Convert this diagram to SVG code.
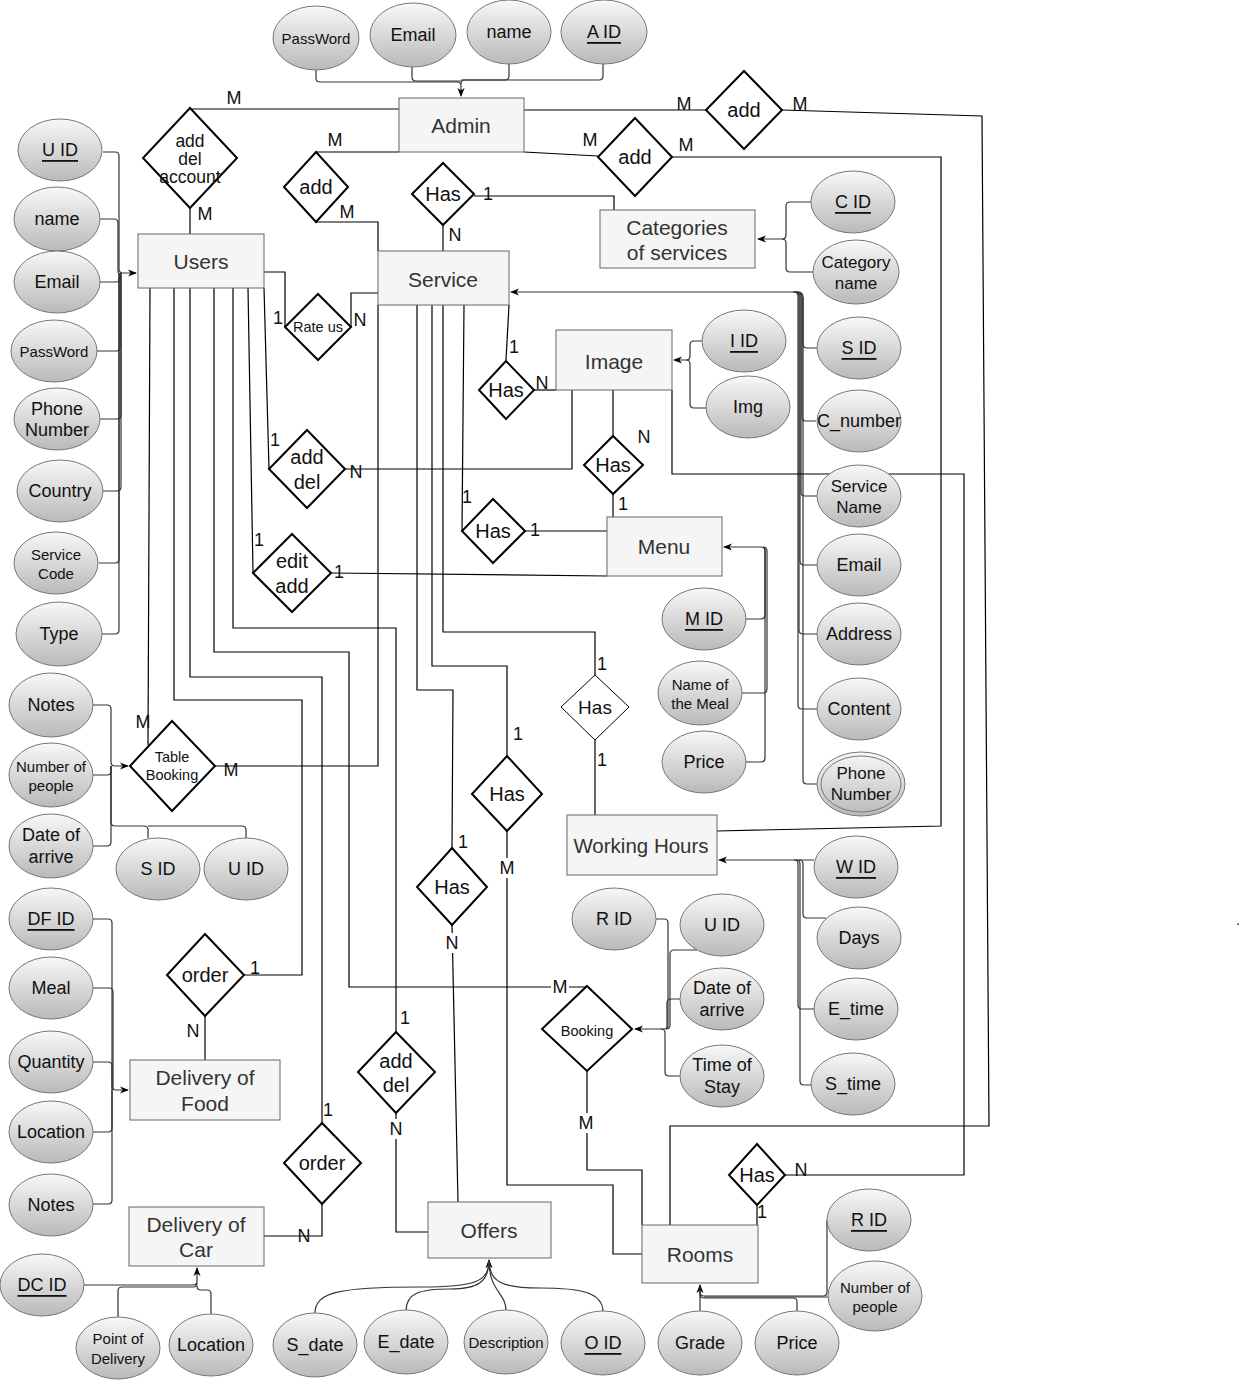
<svg xmlns="http://www.w3.org/2000/svg" width="1242" height="1381" viewBox="0 0 1242 1381">
<style>
.ent{fill:#f5f5f5;stroke:#666;stroke-width:1}
.et{font-family:"Liberation Sans",Arial,sans-serif;font-size:21px;fill:#333;text-anchor:middle;dominant-baseline:central}
.attr{fill:url(#g);stroke:#777;stroke-width:1}
.at{font-family:"Liberation Sans",Arial,sans-serif;font-size:18px;fill:#111;text-anchor:middle;dominant-baseline:central}
.sm{font-size:15px}
.u{text-decoration:underline}
.rel{fill:#fff;stroke:#000;stroke-width:2}
.rel1{fill:#fff;stroke:#000;stroke-width:1}
.rt{font-family:"Liberation Sans",Arial,sans-serif;font-size:20px;fill:#111;text-anchor:middle;dominant-baseline:central}
.card{font-family:"Liberation Sans",Arial,sans-serif;font-size:18px;fill:#111;text-anchor:middle;dominant-baseline:central}
.ln{fill:none;stroke:#000;stroke-width:1.2}
.al{fill:none;stroke:#333;stroke-width:1.2}
.bg{fill:#fff}
</style>
<defs>
<linearGradient id="g" x1="0" y1="0" x2="0" y2="1">
<stop offset="0" stop-color="#f8f8f8"/>
<stop offset="1" stop-color="#b9b9b9"/>
</linearGradient>
<marker id="arr" viewBox="0 0 10 10" refX="9" refY="5" markerWidth="9" markerHeight="9" markerUnits="userSpaceOnUse" orient="auto">
<path d="M0,1 L10,5 L0,9 L3,5 z" fill="#000"/>
</marker>
</defs>
<rect width="1242" height="1381" fill="#fff"/>

<g id="connectors">
<!-- Admin attributes -->
<path class="al" d="M316,70 V78 Q316,82 320,82 H457 Q461,82 461,86 V96" marker-end="url(#arr)"/>
<path class="al" d="M412,67 V77 Q412,81 416,81 H461"/>
<path class="al" d="M509,64 V76 Q509,80 505,80 H465 Q461,80 461,84"/>
<path class="al" d="M603,64 V76 Q603,80 599,80 H461"/>
<!-- Admin relations -->
<path class="ln" d="M190,109 H399"/>
<path class="ln" d="M190,208 V234"/>
<path class="ln" d="M316,152 H399"/>
<path class="ln" d="M316,222 H378 V251"/>
<path class="ln" d="M443,225 V251"/>
<path class="ln" d="M474,196 H614 V210"/>
<path class="ln" d="M524,110 H706"/>
<path class="ln" d="M782,110 L982,116 L989,1126 H670 V1225"/>
<path class="ln" d="M524,152 L598,156"/>
<path class="ln" d="M672,157 H941 V826 L717,831"/>
<!-- Categories attributes -->
<path class="al" d="M811,202 H790 Q786,202 786,206 V235 Q786,239 782,239 H758" marker-end="url(#arr)"/>
<path class="al" d="M813,272 H790 Q786,272 786,268 V243 Q786,239 782,239"/>
<!-- Users attributes -->
<path class="al" d="M103,152 H115 Q119,152 119,156 V269 Q119,273 123,273 H136" marker-end="url(#arr)"/>
<path class="al" d="M100,219 H114 Q118,219 118,223 V273"/>
<path class="al" d="M100,282 H116 Q120,282 120,278 V273"/>
<path class="al" d="M97,351 H116 Q120,351 120,347 V273"/>
<path class="al" d="M100,419 H117 Q121,419 121,415 V273"/>
<path class="al" d="M103,491 H117 Q121,491 121,487 V273"/>
<path class="al" d="M99,563 H115 Q119,563 119,559 V273"/>
<path class="al" d="M102,634 H115 Q119,634 119,630 V273"/>
<!-- Users relations -->
<path class="ln" d="M150,288 L148,745"/>
<path class="ln" d="M174,288 V700 H302 V975 H244"/>
<path class="ln" d="M190,288 V677 H322 V1123"/>
<path class="ln" d="M214,288 V652 H349 V987 H587"/>
<path class="ln" d="M233,288 V628 H396 V1032"/>
<path class="ln" d="M248,288 L253,573"/>
<path class="ln" d="M264,288 L269,469"/>
<path class="ln" d="M264,272 H285 V327"/>
<path class="ln" d="M351,327 V293 H378"/>
<path class="ln" d="M345,469 H572 V390"/>
<path class="ln" d="M331,573 L607,576"/>
<path class="ln" d="M215,766 H378 V305"/>
<!-- Service relations -->
<path class="ln" d="M509,305 L506,360"/>
<path class="ln" d="M534,390 H556"/>
<path class="ln" d="M464,305 L462,531"/>
<path class="ln" d="M525,531 H607"/>
<path class="ln" d="M443,305 V632 H595 V675"/>
<path class="ln" d="M595,740 V815"/>
<path class="ln" d="M432,305 V666 H507 V756"/>
<path class="ln" d="M507,831 V1185 H613 V1254 H642"/>
<path class="ln" d="M417,305 V690 H453 L452,848"/>
<path class="ln" d="M452,925 L458,1202"/>
<!-- Service attributes -->
<path class="al" d="M817,348 H807 Q803,348 803,344 V297 Q803,292 798,292 H511" marker-end="url(#arr)"/>
<path class="al" d="M816,421 H806 Q802,421 802,417 V296 Q802,292 797,292"/>
<path class="al" d="M817,496 H805 Q801,496 801,492 V296 Q801,292 796,292"/>
<path class="al" d="M817,565 H804 Q800,565 800,561 V296 Q800,292 795,292"/>
<path class="al" d="M817,634 H803 Q799,634 799,630 V296 Q799,292 794,292"/>
<path class="al" d="M817,709 H802 Q798,709 798,705 V296 Q798,292 793,292"/>
<path class="al" d="M818,784 H807 Q803,784 803,780 V297"/>
<!-- Image -->
<path class="ln" d="M613,390 V436"/>
<path class="ln" d="M613,494 V517"/>
<path class="ln" d="M672,390 V474 H964 V1175 H785"/>
<path class="al" d="M702,341 H694 Q690,341 690,345 V356 Q690,360 686,360 H674" marker-end="url(#arr)"/>
<path class="al" d="M706,408 H694 Q690,408 690,404 V364 Q690,360 686,360"/>
<!-- Menu attributes -->
<path class="al" d="M746,619 H761 Q765,619 765,615 V551 Q765,547 761,547 H724" marker-end="url(#arr)"/>
<path class="al" d="M742,693 H763 Q767,693 767,689 V551 Q767,547 763,547"/>
<path class="al" d="M746,762 H761 Q765,762 765,758 V547"/>
<!-- Working Hours attributes -->
<path class="al" d="M814,860 H719" marker-end="url(#arr)"/>
<path class="al" d="M826,918 H807 Q803,918 803,914 V864 Q803,860 799,860"/>
<path class="al" d="M814,1009 H802 Q798,1009 798,1005 V864 Q798,860 794,860"/>
<path class="al" d="M812,1085 H804 Q800,1085 800,1081 V864 Q800,860 796,860"/>
<!-- Table Booking attributes -->
<path class="al" d="M93,705 H107 Q111,705 111,709 V762 Q111,766 115,766 H128" marker-end="url(#arr)"/>
<path class="al" d="M93,775 H107 Q111,775 111,771 V766"/>
<path class="al" d="M93,846 H107 Q111,846 111,842 V766"/>
<path class="al" d="M148,838 V830 Q148,826 144,826 H115 Q111,826 111,822 V766"/>
<path class="al" d="M246,838 V830 Q246,826 242,826 H148"/>
<!-- Delivery of Food -->
<path class="ln" d="M205,1016 V1060"/>
<path class="al" d="M93,919 H108 Q112,919 112,923 V1086 Q112,1090 116,1090 H128" marker-end="url(#arr)"/>
<path class="al" d="M93,988 H109 Q113,988 113,992 V1090"/>
<path class="al" d="M93,1062 H108 Q112,1062 112,1066 V1090"/>
<path class="al" d="M93,1132 H108 Q112,1132 112,1128 V1090"/>
<path class="al" d="M93,1204 H108 Q112,1204 112,1200 V1090"/>
<!-- Delivery of Car -->
<path class="ln" d="M322,1204 V1236 H264"/>
<path class="al" d="M84,1285 H193 Q197,1285 197,1281 V1268" marker-end="url(#arr)"/>
<path class="al" d="M118,1317 V1291 Q118,1287 122,1287 H193 Q197,1287 197,1283"/>
<path class="al" d="M211,1314 V1294 Q211,1290 207,1290 H201 Q197,1290 197,1286"/>
<!-- Offers -->
<path class="ln" d="M396,1113 V1232 H428"/>
<path class="al" d="M315,1313 C315,1292 340,1287 420,1287 C475,1287 489,1282 489,1260" marker-end="url(#arr)"/>
<path class="al" d="M406,1311 C406,1293 420,1289 450,1289 C478,1289 489,1282 489,1260"/>
<path class="al" d="M506,1311 C506,1292 489,1292 489,1260"/>
<path class="al" d="M603,1312 C603,1292 580,1288 540,1288 C502,1288 489,1282 489,1260"/>
<!-- Booking / Rooms -->
<path class="ln" d="M587,1071 V1170 H642 V1225"/>
<path class="al" d="M656,919 H664 Q668,919 668,923 V1025 Q668,1029 664,1029 H635" marker-end="url(#arr)"/>
<path class="al" d="M697,950 H674 Q670,950 670,954 V1025 Q670,1029 666,1029"/>
<path class="al" d="M680,999 H671 Q667,999 667,1003 V1029"/>
<path class="al" d="M680,1076 H669 Q665,1076 665,1072 V1033 Q665,1029 661,1029"/>
<path class="ln" d="M757,1205 V1225"/>
<path class="al" d="M700,1312 V1285" marker-end="url(#arr)"/>
<path class="al" d="M797,1312 V1302 Q797,1298 793,1298 H704 Q700,1298 700,1294 V1285"/>
<path class="al" d="M828,1297 H704"/>
<path class="al" d="M827,1220 V1292 Q827,1296 823,1296 H704 Q700,1296 700,1292"/>
</g>

<g id="labels">
<rect class="bg" x="443" y="933" width="18" height="20"/>
<rect class="bg" x="498" y="858" width="18" height="20"/>
<rect class="bg" x="577" y="1113" width="18" height="20"/>
<rect class="bg" x="387" y="1119" width="18" height="20"/>
<rect class="bg" x="551" y="977" width="18" height="20"/>
<text class="card" x="234" y="98">M</text>
<text class="card" x="205" y="214">M</text>
<text class="card" x="335" y="140">M</text>
<text class="card" x="347" y="212">M</text>
<text class="card" x="488" y="194">1</text>
<text class="card" x="455" y="235">N</text>
<text class="card" x="590" y="140">M</text>
<text class="card" x="686" y="145">M</text>
<text class="card" x="684" y="104">M</text>
<text class="card" x="800" y="104">M</text>
<text class="card" x="278" y="318">1</text>
<text class="card" x="360" y="320">N</text>
<text class="card" x="514" y="347">1</text>
<text class="card" x="542" y="383">N</text>
<text class="card" x="644" y="437">N</text>
<text class="card" x="623" y="504">1</text>
<text class="card" x="275" y="440">1</text>
<text class="card" x="356" y="472">N</text>
<text class="card" x="467" y="497">1</text>
<text class="card" x="535" y="530">1</text>
<text class="card" x="259" y="540">1</text>
<text class="card" x="339" y="572">1</text>
<text class="card" x="602" y="664">1</text>
<text class="card" x="602" y="760">1</text>
<text class="card" x="518" y="734">1</text>
<text class="card" x="507" y="868">M</text>
<text class="card" x="463" y="842">1</text>
<text class="card" x="452" y="943">N</text>
<text class="card" x="143" y="722">M</text>
<text class="card" x="231" y="770">M</text>
<text class="card" x="255" y="968">1</text>
<text class="card" x="193" y="1031">N</text>
<text class="card" x="560" y="987">M</text>
<text class="card" x="586" y="1123">M</text>
<text class="card" x="405" y="1018">1</text>
<text class="card" x="396" y="1129">N</text>
<text class="card" x="328" y="1110">1</text>
<text class="card" x="304" y="1236">N</text>
<text class="card" x="801" y="1170">N</text>
<text class="card" x="762" y="1212">1</text>
<text class="card" x="1238" y="920" style="font-size:14px">.</text>
</g>

<!-- Relationships -->
<g id="r-adddelacc"><polygon class="rel" points="190,108 237,158 190,208 143,158"/><text class="rt" x="190" y="141" style="font-size:17.5px">add</text><text class="rt" x="190" y="159" style="font-size:17.5px">del</text><text class="rt" x="190" y="177" style="font-size:17.5px">account</text></g>
<g id="r-add1"><polygon class="rel" points="316,152 348,187 316,222 284,187"/><text class="rt" x="316" y="187">add</text></g>
<g id="r-has1"><polygon class="rel" points="443,163 474,194 443,225 412,194"/><text class="rt" x="443" y="194">Has</text></g>
<g id="r-add2"><polygon class="rel" points="744,71 782,110 744,149 706,110"/><text class="rt" x="744" y="110">add</text></g>
<g id="r-add3"><polygon class="rel" points="635,118 672,157 635,196 598,157"/><text class="rt" x="635" y="157">add</text></g>
<g id="r-rate"><polygon class="rel" points="318,294 351,327 318,360 285,327"/><text class="rt" x="318" y="327" style="font-size:14.5px">Rate us</text></g>
<g id="r-hasimg"><polygon class="rel" points="506,361 534,390 506,419 479,390"/><text class="rt" x="506" y="390">Has</text></g>
<g id="r-adddel"><polygon class="rel" points="307,430 345,469 307,508 269,469"/><text class="rt" x="307" y="457">add</text><text class="rt" x="307" y="482">del</text></g>
<g id="r-hasimgmenu"><polygon class="rel" points="613,436 643,465 613,494 584,465"/><text class="rt" x="613" y="465">Has</text></g>
<g id="r-hasmenu"><polygon class="rel" points="493,499 525,531 493,563 462,531"/><text class="rt" x="493" y="531">Has</text></g>
<g id="r-editadd"><polygon class="rel" points="292,534 331,573 292,612 253,573"/><text class="rt" x="292" y="561">edit</text><text class="rt" x="292" y="586">add</text></g>
<g id="r-haswh"><polygon class="rel1" points="595,675 629,707 595,740 561,707"/><text class="rt" x="595" y="707" style="font-size:19px">Has</text></g>
<g id="r-hasmid"><polygon class="rel" points="507,756 542,794 507,831 472,794"/><text class="rt" x="507" y="794">Has</text></g>
<g id="r-haslow"><polygon class="rel" points="452,848 487,887 452,925 417,887"/><text class="rt" x="452" y="887">Has</text></g>
<g id="r-table"><polygon class="rel" points="172,721 215,766 172,811 130,766"/><text class="rt" x="172" y="757" style="font-size:14.5px">Table</text><text class="rt" x="172" y="775" style="font-size:14.5px">Booking</text></g>
<g id="r-order1"><polygon class="rel" points="205,934 244,975 205,1016 167,975"/><text class="rt" x="205" y="975">order</text></g>
<g id="r-order2"><polygon class="rel" points="322,1123 361,1163 322,1204 284,1163"/><text class="rt" x="322" y="1163">order</text></g>
<g id="r-adddel2"><polygon class="rel" points="396,1032 435,1072 396,1113 358,1072"/><text class="rt" x="396" y="1061">add</text><text class="rt" x="396" y="1085">del</text></g>
<g id="r-booking"><polygon class="rel" points="587,986 632,1029 587,1071 542,1029"/><text class="rt" x="587" y="1031" style="font-size:14.5px">Booking</text></g>
<g id="r-hasrooms"><polygon class="rel" points="757,1144 785,1175 757,1205 729,1175"/><text class="rt" x="757" y="1175">Has</text></g>

<!-- Entities -->
<g id="e-admin"><rect class="ent" x="399" y="98" width="125" height="54"/><text class="et" x="461" y="125">Admin</text></g>
<g id="e-users"><rect class="ent" x="138" y="234" width="126" height="54"/><text class="et" x="201" y="261">Users</text></g>
<g id="e-service"><rect class="ent" x="378" y="251" width="131" height="54"/><text class="et" x="443" y="279">Service</text></g>
<g id="e-categories"><rect class="ent" x="600" y="210" width="155" height="58"/><text class="et" x="677" y="227">Categories</text><text class="et" x="677" y="252">of services</text></g>
<g id="e-image"><rect class="ent" x="556" y="330" width="116" height="60"/><text class="et" x="614" y="361">Image</text></g>
<g id="e-menu"><rect class="ent" x="607" y="517" width="115" height="59"/><text class="et" x="664" y="546">Menu</text></g>
<g id="e-wh"><rect class="ent" x="567" y="815" width="150" height="60"/><text class="et" x="641" y="845" style="font-size:20.5px">Working Hours</text></g>
<g id="e-dfood"><rect class="ent" x="130" y="1060" width="150" height="60"/><text class="et" x="205" y="1077">Delivery of</text><text class="et" x="205" y="1103">Food</text></g>
<g id="e-dcar"><rect class="ent" x="129" y="1207" width="135" height="59"/><text class="et" x="196" y="1224">Delivery of</text><text class="et" x="196" y="1249">Car</text></g>
<g id="e-offers"><rect class="ent" x="428" y="1202" width="123" height="56"/><text class="et" x="489" y="1230">Offers</text></g>
<g id="e-rooms"><rect class="ent" x="642" y="1225" width="116" height="58"/><text class="et" x="700" y="1254">Rooms</text></g>

<!-- Attributes -->
<g id="a-admin-pw"><ellipse class="attr" cx="316" cy="38" rx="43" ry="32"/><text class="at sm" x="316" y="38">PassWord</text></g>
<g id="a-admin-email"><ellipse class="attr" cx="413" cy="35" rx="43" ry="32"/><text class="at" x="413" y="35">Email</text></g>
<g id="a-admin-name"><ellipse class="attr" cx="509" cy="32" rx="42" ry="32"/><text class="at" x="509" y="32">name</text></g>
<g id="a-admin-id"><ellipse class="attr" cx="604" cy="32" rx="43" ry="32"/><text class="at u" x="604" y="32">A ID</text></g>

<g id="a-cat-id"><ellipse class="attr" cx="853" cy="202" rx="42" ry="31"/><text class="at u" x="853" y="202">C ID</text></g>
<g id="a-cat-name"><ellipse class="attr" cx="856" cy="272" rx="43" ry="32"/><text class="at" x="856" y="262" style="font-size:17px">Category</text><text class="at" x="856" y="283" style="font-size:17px">name</text></g>

<g id="a-u-id"><ellipse class="attr" cx="60" cy="150" rx="42" ry="31"/><text class="at u" x="60" y="150">U ID</text></g>
<g id="a-u-name"><ellipse class="attr" cx="57" cy="219" rx="43" ry="32"/><text class="at" x="57" y="219">name</text></g>
<g id="a-u-email"><ellipse class="attr" cx="57" cy="282" rx="43" ry="31"/><text class="at" x="57" y="282">Email</text></g>
<g id="a-u-pw"><ellipse class="attr" cx="54" cy="351" rx="43" ry="31"/><text class="at sm" x="54" y="351">PassWord</text></g>
<g id="a-u-phone"><ellipse class="attr" cx="57" cy="419" rx="43" ry="31"/><text class="at" x="57" y="409">Phone</text><text class="at" x="57" y="430">Number</text></g>
<g id="a-u-country"><ellipse class="attr" cx="60" cy="491" rx="43" ry="31"/><text class="at" x="60" y="491">Country</text></g>
<g id="a-u-scode"><ellipse class="attr" cx="56" cy="563" rx="42" ry="31"/><text class="at sm" x="56" y="554">Service</text><text class="at sm" x="56" y="573">Code</text></g>
<g id="a-u-type"><ellipse class="attr" cx="59" cy="634" rx="43" ry="32"/><text class="at" x="59" y="634">Type</text></g>

<g id="a-s-id"><ellipse class="attr" cx="859" cy="348" rx="42" ry="31"/><text class="at u" x="859" y="348">S ID</text></g>
<g id="a-s-cnum"><ellipse class="attr" cx="859" cy="421" rx="42" ry="31"/><text class="at" x="859" y="421">C_number</text></g>
<g id="a-s-name"><ellipse class="attr" cx="859" cy="496" rx="42" ry="31"/><text class="at" x="859" y="486" style="font-size:17px">Service</text><text class="at" x="859" y="507" style="font-size:17px">Name</text></g>
<g id="a-s-email"><ellipse class="attr" cx="859" cy="565" rx="42" ry="31"/><text class="at" x="859" y="565">Email</text></g>
<g id="a-s-address"><ellipse class="attr" cx="859" cy="634" rx="42" ry="31"/><text class="at" x="859" y="634">Address</text></g>
<g id="a-s-content"><ellipse class="attr" cx="859" cy="709" rx="42" ry="31"/><text class="at" x="859" y="709">Content</text></g>
<g id="a-s-phone"><ellipse class="attr" cx="861" cy="784" rx="44" ry="32"/><ellipse fill="none" stroke="#777" cx="861" cy="784" rx="40" ry="28"/><text class="at" x="861" y="773" style="font-size:17px">Phone</text><text class="at" x="861" y="794" style="font-size:17px">Number</text></g>

<g id="a-i-id"><ellipse class="attr" cx="744" cy="341" rx="42" ry="31"/><text class="at u" x="744" y="341">I ID</text></g>
<g id="a-i-img"><ellipse class="attr" cx="748" cy="407" rx="42" ry="31"/><text class="at" x="748" y="407">Img</text></g>

<g id="a-m-id"><ellipse class="attr" cx="704" cy="619" rx="42" ry="31"/><text class="at u" x="704" y="619">M ID</text></g>
<g id="a-m-name"><ellipse class="attr" cx="700" cy="693" rx="42" ry="32"/><text class="at sm" x="700" y="684">Name of</text><text class="at sm" x="700" y="703">the Meal</text></g>
<g id="a-m-price"><ellipse class="attr" cx="704" cy="762" rx="42" ry="31"/><text class="at" x="704" y="762">Price</text></g>

<g id="a-w-id"><ellipse class="attr" cx="856" cy="867" rx="42" ry="31"/><text class="at u" x="856" y="867">W ID</text></g>
<g id="a-w-days"><ellipse class="attr" cx="859" cy="938" rx="42" ry="31"/><text class="at" x="859" y="938">Days</text></g>
<g id="a-w-etime"><ellipse class="attr" cx="856" cy="1009" rx="42" ry="31"/><text class="at" x="856" y="1009">E_time</text></g>
<g id="a-w-stime"><ellipse class="attr" cx="853" cy="1084" rx="42" ry="31"/><text class="at" x="853" y="1084">S_time</text></g>

<g id="a-t-notes"><ellipse class="attr" cx="51" cy="705" rx="42" ry="32"/><text class="at" x="51" y="705">Notes</text></g>
<g id="a-t-num"><ellipse class="attr" cx="51" cy="775" rx="42" ry="32"/><text class="at sm" x="51" y="766">Number of</text><text class="at sm" x="51" y="785">people</text></g>
<g id="a-t-date"><ellipse class="attr" cx="51" cy="846" rx="42" ry="32"/><text class="at" x="51" y="835">Date of</text><text class="at" x="51" y="857">arrive</text></g>
<g id="a-t-sid"><ellipse class="attr" cx="158" cy="869" rx="42" ry="31"/><text class="at" x="158" y="869">S ID</text></g>
<g id="a-t-uid"><ellipse class="attr" cx="246" cy="869" rx="42" ry="31"/><text class="at" x="246" y="869">U ID</text></g>

<g id="a-f-id"><ellipse class="attr" cx="51" cy="919" rx="42" ry="31"/><text class="at u" x="51" y="919">DF ID</text></g>
<g id="a-f-meal"><ellipse class="attr" cx="51" cy="988" rx="42" ry="31"/><text class="at" x="51" y="988">Meal</text></g>
<g id="a-f-qty"><ellipse class="attr" cx="51" cy="1062" rx="42" ry="31"/><text class="at" x="51" y="1062">Quantity</text></g>
<g id="a-f-loc"><ellipse class="attr" cx="51" cy="1132" rx="42" ry="31"/><text class="at" x="51" y="1132">Location</text></g>
<g id="a-f-notes"><ellipse class="attr" cx="51" cy="1205" rx="42" ry="31"/><text class="at" x="51" y="1205">Notes</text></g>

<g id="a-c-id"><ellipse class="attr" cx="42" cy="1285" rx="42" ry="31"/><text class="at u" x="42" y="1285">DC ID</text></g>
<g id="a-c-point"><ellipse class="attr" cx="118" cy="1348" rx="42" ry="31"/><text class="at sm" x="118" y="1338">Point of</text><text class="at sm" x="118" y="1358">Delivery</text></g>
<g id="a-c-loc"><ellipse class="attr" cx="211" cy="1345" rx="42" ry="31"/><text class="at" x="211" y="1345">Location</text></g>

<g id="a-o-sdate"><ellipse class="attr" cx="315" cy="1345" rx="42" ry="32"/><text class="at" x="315" y="1345">S_date</text></g>
<g id="a-o-edate"><ellipse class="attr" cx="406" cy="1342" rx="42" ry="32"/><text class="at" x="406" y="1342">E_date</text></g>
<g id="a-o-desc"><ellipse class="attr" cx="506" cy="1342" rx="42" ry="32"/><text class="at sm" x="506" y="1342">Description</text></g>
<g id="a-o-id"><ellipse class="attr" cx="603" cy="1343" rx="42" ry="32"/><text class="at u" x="603" y="1343">O ID</text></g>

<g id="a-b-rid"><ellipse class="attr" cx="614" cy="919" rx="42" ry="31"/><text class="at" x="614" y="919">R ID</text></g>
<g id="a-b-uid"><ellipse class="attr" cx="722" cy="925" rx="42" ry="31"/><text class="at" x="722" y="925">U ID</text></g>
<g id="a-b-date"><ellipse class="attr" cx="722" cy="999" rx="42" ry="31"/><text class="at" x="722" y="988">Date of</text><text class="at" x="722" y="1010">arrive</text></g>
<g id="a-b-stay"><ellipse class="attr" cx="722" cy="1076" rx="42" ry="31"/><text class="at" x="722" y="1065">Time of</text><text class="at" x="722" y="1087">Stay</text></g>

<g id="a-r-id"><ellipse class="attr" cx="869" cy="1220" rx="42" ry="31"/><text class="at u" x="869" y="1220">R ID</text></g>
<g id="a-r-num"><ellipse class="attr" cx="875" cy="1296" rx="47" ry="35"/><text class="at sm" x="875" y="1287">Number of</text><text class="at sm" x="875" y="1306">people</text></g>
<g id="a-r-grade"><ellipse class="attr" cx="700" cy="1343" rx="42" ry="32"/><text class="at" x="700" y="1343">Grade</text></g>
<g id="a-r-price"><ellipse class="attr" cx="797" cy="1343" rx="42" ry="32"/><text class="at" x="797" y="1343">Price</text></g>
</svg>
